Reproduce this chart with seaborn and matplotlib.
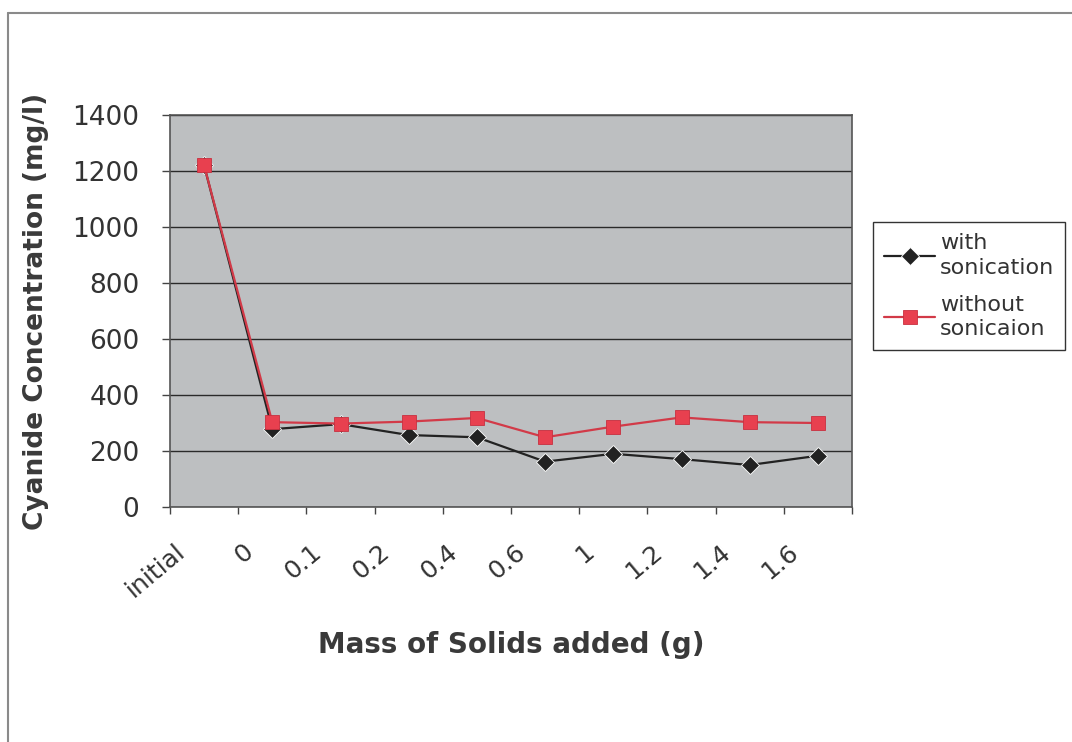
import matplotlib
matplotlib.use('Agg')
import matplotlib.pyplot as plt
import numpy as np
import pandas as pd
import seaborn as sns
from matplotlib.lines import Line2D

# data
categories = ['initial', '0', '0.1', '0.2', '0.4', '0.6', '1', '1.2', '1.4', '1.6']
with_sonication = [1220, 278, 296, 257, 249, 162, 190, 171, 150, 183]
without_sonication = [1220, 303, 298, 305, 318, 249, 287, 320, 303, 300]
series_names = ['with\nsonication', 'without\nsonicaion']
y_ticks = [0, 200, 400, 600, 800, 1000, 1200, 1400]

pos = np.arange(len(categories))
df = pd.DataFrame({
    'pos': np.concatenate([pos, pos]),
    'conc': with_sonication + without_sonication,
    'series': [series_names[0]] * len(pos) + [series_names[1]] * len(pos),
})

sns.set_style('white')
plt.rcParams['font.family'] = ['DejaVu Sans']

fig = plt.figure(figsize=(10.72, 7.42), dpi=100)
ax = fig.add_axes([170 / 1072, 1 - 507 / 742, 682 / 1072, 392 / 742])
ax.set_facecolor('#bdbfc1')

sns.lineplot(data=df, x='pos', y='conc', hue='series', style='series',
             palette={series_names[0]: '#222222', series_names[1]: '#d23a48'},
             markers={series_names[0]: 'D', series_names[1]: 's'},
             dashes=False, sort=False, linewidth=1.6, markersize=9,
             markeredgewidth=0.6, ax=ax, legend=True)
for line in ax.lines:
    if line.get_color() == '#d23a48':
        line.set_markerfacecolor('#e8404f')
        line.set_markeredgecolor('#c83040')
        line.set_markersize(10)

ax.set_xlim(-0.5, len(categories) - 0.5)
ax.set_ylim(0, 1400)
ax.set_yticks(y_ticks)
ax.yaxis.grid(True, color='#2a2a2a', linewidth=1.0)
ax.set_axisbelow(True)

# tick marks at category boundaries, labels shifted like the original
ax.set_xticks(np.arange(len(categories) + 1) - 0.5)
ax.set_xticklabels([])
ax.set_xticks(pos - 0.33, minor=True)
ax.set_xticklabels(categories, minor=True, rotation=40, ha='right', va='center',
                   rotation_mode='anchor', fontsize=18, color='#333333')
ax.tick_params(axis='x', which='minor', length=0, pad=30)
ax.tick_params(axis='x', which='major', direction='out', length=5, width=1, color='#444444', bottom=True)
ax.tick_params(axis='y', direction='out', length=6, width=1, color='#444444', left=True,
               labelsize=19, labelcolor='#333333', pad=16)

for s in ax.spines.values():
    s.set_color('#555555')
    s.set_linewidth(1.2)

ax.set_xlabel('Mass of Solids added (g)', fontsize=20, fontweight='bold', color='#3a3a3a', labelpad=21)
ax.set_ylabel('Cyanide Concentration (mg/l)', fontsize=19, fontweight='bold', color='#3a3a3a', labelpad=17)

handles, labels = ax.get_legend_handles_labels()
ax.get_legend().remove()
leg = fig.legend(handles, labels, loc='upper left', bbox_to_anchor=(873 / 1072, 1 - 222 / 742),
                 borderaxespad=0, frameon=True, fancybox=False, framealpha=1, edgecolor='#333333',
                 fontsize=16, handlelength=2.3, borderpad=0.5, labelspacing=0.75, handletextpad=0.2)
for t in leg.get_texts():
    t.set_color('#333333')
    t.set_linespacing(1.3)
leg.get_frame().set_linewidth(1.0)

# outer chart frame
fig.add_artist(Line2D([8 / 1072, 8 / 1072], [0, 1 - 13 / 742], transform=fig.transFigure, color='#8a8a8a', lw=1.5))
fig.add_artist(Line2D([8 / 1072, 1], [1 - 13 / 742, 1 - 13 / 742], transform=fig.transFigure, color='#8a8a8a', lw=1.5))

plt.savefig('out.png', dpi=100)
plt.close()
